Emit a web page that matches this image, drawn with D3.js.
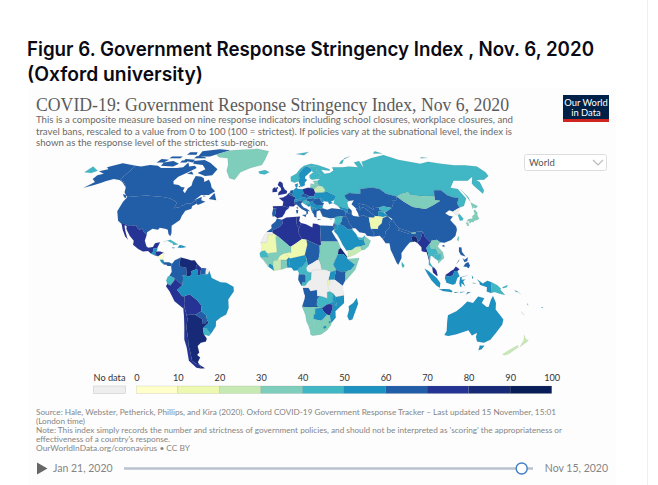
<!DOCTYPE html>
<html><head><meta charset="utf-8">
<script src="https://cdnjs.cloudflare.com/ajax/libs/d3/7.8.5/d3.min.js"></script>
<style>html,body{margin:0;padding:0;background:#fff}svg{display:block}</style></head>
<body><svg id="chart" width="658" height="485"></svg>
<script>
const figureTitle = ["Figur 6. Government Response Stringency Index , Nov. 6, 2020","(Oxford university)"];
const chartTitle = "COVID-19: Government Response Stringency Index, Nov 6, 2020";
const chartSubtitle = ["This is a composite measure based on nine response indicators including school closures, workplace closures, and",
 "travel bans, rescaled to a value from 0 to 100 (100 = strictest). If policies vary at the subnational level, the index is",
 "shown as the response level of the strictest sub-region."];
const footnotes = ["Source: Hale, Webster, Petherick, Phillips, and Kira (2020). Oxford COVID-19 Government Response Tracker – Last updated 15 November, 15:01",
 "(London time)",
 "Note: This index simply records the number and strictness of government policies, and should not be interpreted as 'scoring' the appropriateness or",
 "effectiveness of a country's response.",
 "OurWorldInData.org/coronavirus • CC BY"];
const legendTicks = [0,10,20,30,40,50,60,70,80,90,100];
const legendColors = ["#ffffcc","#edf8b1","#c7e9b4","#7fcdbb","#41b6c4","#1d91c0","#225ea8","#253494","#162a78","#081d58"];
const noDataColor = "#eeeeee";
const timelineLabels = ["Jan 21, 2020","Nov 15, 2020"];
const timelineDates = ["2020-01-21","2020-11-06","2020-11-15"];

const regionsAmericas = ["Canada","Alaska","United States","Mexico","Greenland","Guatemala","Belize","Honduras","El Salvador","Nicaragua","Costa Rica","Panama","Cuba","Haiti","Dominican Republic","Jamaica","Colombia","Venezuela","Guyana","Suriname","French Guiana","Ecuador","Peru","Bolivia","Paraguay","Chile","Argentina","Uruguay","Brazil"];
const valuesAmericas  = [65,65,65,75,35,55,55,75,65,5,55,65,45,55,55,55,65,85,75,65,null,45,75,75,65,75,85,45,55];
const regionsEurope = ["Iceland","United Kingdom","Ireland","France","Spain","Portugal","Belgium","Netherlands","Germany","Denmark","Switzerland","Austria","Italy","Poland","Czechia","Slovakia","Hungary","Croatia","Bosnia","Serbia","Albania","North Macedonia","Bulgaria","Romania","Moldova","Greece","Ukraine","Belarus","Lithuania","Latvia","Estonia","Norway","Sweden","Finland","Svalbard","Russia","Cyprus"];
const valuesEurope  = [45,75,75,75,75,65,65,65,55,55,55,55,65,75,65,55,65,45,55,55,55,55,55,65,55,65,55,25,35,35,35,45,55,45,45,45,45];
const regionsAsia = ["Turkey","Georgia","Armenia","Azerbaijan","Iran","Iraq","Syria","Lebanon","Israel","Jordan","Saudi Arabia","Kuwait","UAE","Oman","Yemen","Kazakhstan","Turkmenistan","Uzbekistan","Kyrgyzstan","Tajikistan","Afghanistan","Pakistan","India","Nepal","Bhutan","Bangladesh","Sri Lanka","China","Mongolia","Taiwan","North Korea","South Korea","Japan","Myanmar","Thailand","Laos","Vietnam","Cambodia","Malaysia","Indonesia","Philippines"];
const valuesAsia  = [65,55,55,65,65,65,45,45,75,55,55,55,45,35,25,65,65,65,45,55,15,65,65,65,35,85,45,65,35,35,null,45,35,75,45,35,35,45,75,55,65];
const regionsOceania = ["Papua New Guinea","Australia","New Zealand","Solomon Islands","Vanuatu","New Caledonia","Fiji"];
const valuesOceania  = [45,55,25,45,45,null,45];
const regionsAfrica = ["Morocco","Western Sahara","Mauritania","Algeria","Tunisia","Libya","Egypt","Mali","Niger","Chad","Sudan","South Sudan","Eritrea","Ethiopia","Somalia","Kenya","Uganda","Burundi","Tanzania","DR Congo","Congo","Gabon","Central African Republic","Cameroon","Nigeria","Benin","Togo","Ghana","Burkina Faso","Cote d'Ivoire","Liberia","Sierra Leone","Guinea","Guinea-Bissau","Senegal","Angola","Zambia","Malawi","Mozambique","Zimbabwe","Namibia","Botswana","South Africa","Lesotho","Eswatini","Madagascar"];
const valuesAfrica  = [65,null,15,75,75,75,65,35,15,65,35,35,85,55,35,65,55,15,null,null,45,65,null,45,55,55,35,35,15,25,55,35,35,35,45,65,45,55,55,75,35,55,35,55,55,55];

const outlines = {
"Canada":"-141,69.6 -135,69 -128,70 -120,69.5 -115,68 -108,68 -100,68 -95,68.5 -94,72 -90,69 -85,69.5 -82,68 -87,65 -93,62 -94.5,59 -92.5,57 -88,56.5 -85,55.3 -82,55 -82,52.9 -79.5,51.3 -79,54.5 -77,56 -78,59 -78,62.4 -73,62 -70,61 -68,58.5 -65,60 -62,57.5 -60,55 -56,52.5 -60,50.2 -66,50.2 -70,47 -65,49 -64.5,47 -61,46 -66,44 -67,45 -68,47.3 -70,46 -71.5,45 -75,45 -76.5,44 -79,43.3 -79,42.8 -83,42 -82.5,45.3 -84.5,46.5 -89,48 -95,49 -123,49 -125,50 -128,52 -130,55 -133,57 -137,59 -141,60|-128,50.8 -125,50 -123.5,48.4 -125.5,48.8|-59,47.7 -56,51.5 -53,47|-80,73.7 -72,71.5 -62,67 -64,63 -70,62.5 -78,64.5 -73,67 -78,70 -88,71 -90,73|-117,69.5 -105,69 -102,71 -110,73 -118,72|-90,76.5 -78,76.5 -72,78.5 -62,82 -75,83 -92,81|-125,72 -118,72 -116,74 -124,74.5|-92,75 -80,75 -82,76 -92,77|-117,75 -106,75 -106,76.5 -117,76.5|-100,73.5 -90,72 -90,74 -100,74.5|-87,64 -81,63.5 -84,65.5|-104,78 -94,78 -96,80 -104,80|-64,49.9 -62,49.4 -64,49.2|-102,72 -96,72 -96,73.4 -102,73.4",
"Alaska":"-156.5,71.3 -141,69.6 -141,60 -137,59 -133,57 -130,55 -133,56.5 -137,58.5 -141,59.8 -147,60.5 -152,59 -154,58 -158,56.5 -164,54.7 -160,58.5 -165,60.5 -165,63 -161,64 -168,65.6 -162,67 -166,68.5",
"United States":"-123,49 -95,49 -89,48 -84.5,46.5 -82.5,45.3 -83,42 -79,42.8 -79,43.3 -76.5,44 -75,45 -71.5,45 -70,46 -68,47.3 -67,45 -70,43.5 -70,41.7 -74,40.6 -75.5,37.5 -76,35 -81,31.5 -80,27 -80.5,25.2 -82,26.5 -83,29 -85,29.7 -89,30.2 -90,29 -94,29.6 -97.3,27.5 -97.2,26 -99.5,27.5 -101.4,29.8 -103,29 -104.8,30 -106.5,31.8 -108.2,31.4 -111,31.3 -114.8,32.5 -117.1,32.5 -120.5,34.5 -122.4,37.5 -124.3,40.3 -124,46",
"Mexico":"-117.1,32.5 -114.8,32.5 -111,31.3 -108.2,31.4 -106.5,31.8 -104.8,30 -103,29 -101.4,29.8 -99.5,27.5 -97.2,26 -97.8,22.5 -96,19 -94.5,18.2 -91.5,18.6 -90.4,21 -87,21.5 -88.3,18.4 -89.2,17.8 -91,17.8 -91,16 -92.2,14.6 -94.5,16.2 -98,16 -101.5,17.5 -105.5,20 -105.5,22.5 -109,25.5 -112.5,29.5 -113,31.3 -114.8,31.8 -113,28.5 -110.5,24.3 -109.5,23 -112,25 -115,29",
"Greenland":"-73,78 -60,82 -32,83.5 -18,81 -20,74 -22,70 -32,68 -40,65 -43,60 -48,61 -53,66 -54,70 -58,75 -68,76",
"Guatemala":"-92.2,14.6 -91,16 -91,17.8 -89.2,17.8 -88.9,15.9 -89.2,14.4 -90.1,13.8",
"Belize":"-89.2,17.8 -88.3,18.4 -88.3,16.5 -88.9,15.9",
"Honduras":"-88.9,15.9 -86,15.9 -83.2,15 -84.5,14.7 -87.3,13 -87.8,13.4 -89.2,14.4",
"El Salvador":"-90.1,13.8 -89.2,14.4 -87.8,13.4 -88.5,13.2",
"Nicaragua":"-87.3,13 -84.5,14.7 -83.2,15 -83.6,11 -85.7,11",
"Costa Rica":"-85.7,11 -83.6,11 -82.6,9.5 -83,8.2 -85,9.7",
"Panama":"-83,8.2 -82.6,9.5 -79.5,9.5 -77.3,8.6 -77.9,7.3 -80.4,7.3 -81,8",
"Cuba":"-84.9,21.9 -80,23 -74.2,20.2 -77.7,19.9 -78,20.8 -82,22.4",
"Haiti":"-74.4,18.4 -73,19.9 -71.7,19.7 -71.7,18.1",
"Dominican Republic":"-71.7,19.7 -68.4,18.6 -71.7,18.1",
"Jamaica":"-78.3,18.5 -76.3,18.2 -77.5,17.8",
"Colombia":"-77.3,8.6 -75.5,10.7 -71.5,12.4 -72.3,9 -71.9,7 -67.5,6.2 -67.3,3.5 -67.1,1.2 -69.8,1.7 -69.5,-0.5 -70,-4.2 -72.9,-2.3 -75.2,-0.1 -78.8,1.4 -77.3,3.8 -77.9,7.3",
"Venezuela":"-71.5,12.4 -68,11.6 -64,10.5 -61.9,10.7 -60,8.5 -61,6 -60.6,5.2 -64,4 -63.5,2.2 -65,1 -67.1,1.2 -67.3,3.5 -67.5,6.2 -71.9,7 -72.3,9",
"Guyana":"-60,8.5 -57.2,6 -58,2 -59.9,1.3 -59.8,5 -60.6,5.2 -61,6",
"Suriname":"-57.2,6 -54,5.9 -54.2,2.3 -56,1.9 -58,2",
"French Guiana":"-54,5.9 -51.6,4.2 -52.6,2.3 -54.2,2.3",
"Ecuador":"-78.8,1.4 -75.2,-0.1 -75.5,-1.5 -78.3,-4.5 -80.3,-3.4 -81,-1.5 -80,0.8",
"Peru":"-80.3,-3.4 -78.3,-4.5 -75.5,-1.5 -75.2,-0.1 -72.9,-2.3 -70,-4.2 -73.8,-7.3 -70.5,-11 -69,-11 -69,-15.5 -69.5,-17.5 -70.4,-18.3 -76,-14 -79,-8 -81.3,-5",
"Bolivia":"-69,-11 -65.4,-9.8 -60.2,-13.5 -58,-16.3 -58,-20 -62.6,-22.2 -66.3,-21.8 -68.5,-22.7 -69.5,-17.5 -69,-15.5",
"Paraguay":"-58,-20 -55,-22.3 -54.6,-25.6 -56,-27.3 -58.6,-27.2 -57.7,-25 -62.6,-22.2",
"Chile":"-70.4,-18.3 -69.5,-17.5 -68.5,-22.7 -68.3,-24.5 -70,-30 -70.5,-36 -71.5,-40 -72,-45 -73,-50 -71,-52 -68.4,-52.4 -68.6,-55 -72,-54.5 -75.5,-50 -73.5,-42 -73.5,-37 -71.5,-30 -70.5,-23",
"Argentina":"-68.5,-22.7 -66.3,-21.8 -62.6,-22.2 -57.7,-25 -58.6,-27.2 -56,-27.3 -54.6,-25.6 -53.8,-27 -58.4,-30.2 -58.4,-34 -57,-36.5 -58,-38.3 -62,-39 -65,-41 -65.3,-45 -67.5,-46.5 -65.8,-48 -69,-51 -68.4,-52.4 -71,-52 -73,-50 -72,-45 -71.5,-40 -70.5,-36 -70,-30 -68.3,-24.5|-68.4,-52.7 -65.2,-54.8 -68.6,-55",
"Uruguay":"-58.4,-34 -58.4,-30.2 -56,-30.2 -53.4,-33.7 -55,-35",
"Brazil":"-51.6,4.2 -50,0 -44,-2.5 -40,-2.8 -35.2,-5.2 -35,-8 -39,-13 -39,-18 -41,-22 -45,-23.8 -48.5,-26 -49,-29 -53.4,-33.7 -56,-30.2 -58.4,-30.2 -53.8,-27 -54.6,-25.6 -55,-22.3 -58,-20 -58,-16.3 -60.2,-13.5 -65.4,-9.8 -69,-11 -70.5,-11 -73.8,-7.3 -70,-4.2 -69.5,-0.5 -69.8,1.7 -67.1,1.2 -65,1 -63.5,2.2 -64,4 -60.6,5.2 -59.8,5 -59.9,1.3 -58,2 -56,1.9 -54.2,2.3 -52.6,2.3",
"Iceland":"-24,65.5 -18,66.5 -14,65 -18,63.5 -22.5,64",
"United Kingdom":"-5.5,50 1.3,51.2 1.7,52.7 0,53.5 -1.6,55.5 -2,57.6 -3.5,58.6 -5,58.6 -6,56.5 -3.5,54.8 -3,53.4 -5,52|-8,54.5 -6,55.2 -5.5,54.4 -6.5,54",
"Ireland":"-10,52 -6.2,52.2 -6.5,54 -8,54.5 -8,55.3 -10,54.2",
"France":"-1.8,43.4 -1.2,46 -4.7,48.4 -1.5,48.7 1.5,50.1 2.5,51.1 4.2,50 6.2,49.5 8.2,49 7.6,47.6 6.9,46.4 7.6,44 6.5,43.1 3,43.2 3.2,42.4|8.6,42.5 9.5,43 9.4,41.5",
"Spain":"-9.2,43.3 -1.8,43.4 3.2,42.4 0.5,40.5 -0.3,38.8 -2,36.8 -5.5,36 -7.4,37.2 -7,39.5 -6.5,41.9 -8.8,41.9",
"Portugal":"-8.8,41.9 -6.5,41.9 -7,39.5 -7.4,37.2 -9,37 -9.5,38.8",
"Belgium":"2.5,51.1 3.6,51.4 4.2,51.3 6,50.7 6.2,49.5 4.2,50",
"Netherlands":"3.6,51.4 4.5,53 7,53.3 6,50.7 4.2,51.3",
"Germany":"6,50.7 7,53.3 9,54.8 11,54 14.2,53.9 15,51 12.2,50.3 13.7,48.6 10,47.5 7.6,47.6 8.2,49 6.2,49.5",
"Denmark":"8.1,56.9 10.9,57.7 10.3,55.6 9.8,54.9 9,54.8|11,55.7 12.5,56 12.3,55",
"Switzerland":"6.9,46.4 7.6,47.6 9.6,47.5 10.4,46.8 9,46",
"Austria":"9.6,47.5 10,47.5 13.7,48.6 15,49 17,48 16.5,46.8 13.5,46.5 10.4,46.8",
"Italy":"6.9,46.4 9,46 10.4,46.8 13.5,46.5 13.7,45.7 12.3,45.2 12.5,44 14,42.5 16.1,41.8 18.5,40.2 16.9,40.4 17,39 15.8,38 15.8,40 12.4,41.6 10.5,43 8.8,44.4 7.6,44|12.5,38 15.6,38.2 15.1,36.7|8.2,41 9.8,41 9.5,39 8.5,39",
"Poland":"14.2,53.9 18.5,54.8 22.8,54.4 23.5,53.9 24,51.7 22.8,49.2 19,49.5 15,51",
"Czechia":"12.2,50.3 15,51 19,49.5 17,48 15,49 13.7,48.6",
"Slovakia":"17,48 19,49.5 22.8,49.2 22,48.3 18.5,47.8",
"Hungary":"16.5,46.8 17,48 18.5,47.8 22,48.3 22.9,47.9 21,46.2 18.8,45.9",
"Croatia":"13.7,45.7 13.5,46.5 16.5,46.8 18.8,45.9 19,45 16,45.2 17.8,43 13.6,45.2",
"Bosnia":"16,45.2 19,45 19.2,43.5 17.8,43",
"Serbia":"18.8,45.9 21,46.2 22.7,44.2 22.5,42.4 20.5,42.3 19.2,43.5 19,45",
"Albania":"19.2,43.5 20.5,42.3 21,40.9 20,39.7 19.4,41.5",
"North Macedonia":"20.5,42.3 22.5,42.4 23,41.3 21,40.9",
"Bulgaria":"22.7,44.2 28.6,43.7 28,42 26.3,41.7 23,41.3 22.5,42.4",
"Romania":"21,46.2 22.9,47.9 26.6,48.3 28.2,45.5 29.7,45.2 28.6,43.7 22.7,44.2",
"Moldova":"26.6,48.3 29.2,47.5 30,46.4 28.2,45.5",
"Greece":"20,39.7 21,40.9 23,41.3 26.3,41.7 26,40.8 23.5,40.2 23,38 23,36.5 21.5,36.8 21.2,38.3|23.6,35.5 26.3,35.2 24,35",
"Ukraine":"24,51.7 31,52 34,52.3 40,49.6 38,47.1 35,46 36.5,45.2 33.5,44.5 33,46 30,46.4 29.2,47.5 26.6,48.3 22.9,47.9 22,48.3 22.8,49.2",
"Belarus":"23.5,53.9 26.6,55.6 30.8,55.6 32.5,53.3 31,52 24,51.7",
"Lithuania":"21,56.3 26.6,55.6 23.5,53.9 22.8,54.4 21,55.3",
"Latvia":"21,56.3 21.5,57.5 24.4,57.1 24.4,58 27.5,57.6 28.2,56.1 26.6,55.6",
"Estonia":"23.5,59.2 28,59.5 27.5,57.6 24.4,58",
"Norway":"5,59 5,62 10,64 14,67.5 18,69.6 25,71 31,70 29,69 25.7,69 20.5,69 18,68.5 14.5,66 12,63.5 12.5,61 11.5,59 8,58",
"Sweden":"11.5,59 12.5,61 12,63.5 14.5,66 18,68.5 20.5,69 23.7,68 24,65.8 21.5,64.5 17.5,62 17.2,60.7 18.8,59.8 16.5,58 16.4,56.3 14.3,55.5 12.8,55.4",
"Finland":"20.5,69 25.7,69 29,69 28.5,66 31.5,62.8 28,60.5 23,59.9 21.3,61 21.5,63 25.5,65 24,65.8 23.7,68",
"Svalbard":"12,78.5 26,80.3 20,77.5",
"Russia":"31,70 41,67 40.5,66 33,66.7 35,64 40,64.5 44,66.2 44,68.5 54,68.5 60,69 68,68.5 67,72 73,73 73,68 75,72.5 80,73.5 87,75 104,77.7 113,74 130,71 140,72.5 150,71 160,69.8 170,69.8 180,69 180,65 178,62.5 170,60 163,59.8 164,58.5 162,56 160,53 156.7,51 155.5,56 156,57.5 163,62 155,59.3 143,59.3 135,54.8 140,54 140.5,48 135,43.5 131,42.5 130.7,42.3 131,45 135,48.4 130.8,48.8 127.5,50 125.5,53.2 120,53.2 117,49.6 108,49.5 98.7,50 98,52 92,50.8 87.3,49.2 80,51 76.5,54 71,55 61,54 59.5,50.8 51,51.5 47,50 47,48.2 49,46.5 47.5,45.5 47.5,43 48.5,41.8 46.5,41.8 40,43.4 37,45 38,47.1 40,49.6 34,52.3 31,52 32.5,53.3 30.8,55.6 28.2,56.1 27.5,57.6 28,59.5 30,60 28,60.5 31.5,62.8 28.5,66 29,69|-180,69 -170,66 -173,64.5 -180,65|142,54 143,49 142,46 142,50|52,71 56,73.5 68,76.8 60,75 55,71|95,79 105,79 100,81|137,75 145,75.3 140,76|19.8,54.4 22.8,54.4 21,55.3",
"Cyprus":"32.5,34.8 34.5,35.6 33,35.2",
"Turkey":"26.3,41.7 28,42 31.5,41.2 35,42 41.5,41.5 43.5,41 44.7,39.7 44.5,37.2 42,37.2 36.5,36.7 36,36.2 32.5,36 30.5,36.4 27.5,37 26.5,39.5 26,40.8",
"Georgia":"40,43.4 46.5,41.8 46.5,41 43.5,41 41.5,41.5",
"Armenia":"43.5,41 46.5,41 46.5,39 44.7,39.7",
"Azerbaijan":"46.5,41.8 48.5,41.8 49.5,40.5 49,38.4 46.5,39 46.5,41",
"Iran":"44.7,39.7 46.5,39 49,38.4 50,37.4 54,36.9 57,38 61,36.5 61,31.5 61,29.5 63,27 61.5,25 57.5,25.5 56.5,27 52.5,27.5 50,30 48.5,30 46,33 45.5,35.5 44.5,37.2",
"Iraq":"42,37.2 44.5,37.2 45.5,35.5 46,33 48.5,30 47.5,29.8 47,29 44.7,29.2 41,31.9 39,32.3 41,34.5",
"Syria":"36.5,36.7 42,37.2 41,34.5 39,32.3 36.8,32.4 35.7,32.7 36,33.3 36.5,34.6 36,34.6 36,36.2",
"Lebanon":"35.1,33.1 36,33.3 36.5,34.6 36,34.6",
"Israel":"34.3,31.3 35.1,33.1 35.7,32.7 35.5,31.3 35,29.5",
"Jordan":"35.7,32.7 36.8,32.4 39,32.3 37,31.5 38,30.3 36,29.2 35,29.5 35.5,31.3",
"Saudi Arabia":"35,29.5 36,29.2 38,30.3 37,31.5 39,32.3 41,31.9 44.7,29.2 47,29 48.3,28.5 50,26.5 51,24.6 52,23 55.2,22.7 55.7,20 52,19 49,18.6 46.5,17 43.3,16.6 42.5,16.4 40,20 38.5,23 36.7,26 34.8,28",
"Kuwait":"47,29 47.5,29.8 48.3,28.5",
"UAE":"51,24.6 52,23 55.2,22.7 55.7,24 56.3,25.8 54,24.2",
"Oman":"55.2,22.7 55.7,24 56.3,24.8 59.8,22.5 57.8,19 55,17 53,16.7 52,19 55.7,20",
"Yemen":"43.3,12.7 43.3,16.6 46.5,17 49,18.6 52,19 53,16.7 48,14 45,12.9",
"Kazakhstan":"49,46.5 47,48.2 47,50 51,51.5 59.5,50.8 61,54 71,55 76.5,54 80,51 87.3,49.2 85.5,47 83,47 82.5,45.2 80,42.2 74,43.2 70.5,42.5 66,43 66,41 61,44 56,45 56,41.3 53,42 50.5,44.5 53,46.9",
"Turkmenistan":"53,42 56,41.3 58,42.7 60,42 61,41 66,37.4 64.5,36.3 61,36.5 57,38 54,36.9 53.8,39 53,41",
"Uzbekistan":"56,45 61,44 66,41 66,43 70.5,42.5 70.5,41 73,40.5 69,40 68,37.2 66,37.4 61,41 60,42 58,42.7 56,41.3",
"Kyrgyzstan":"70.5,42.5 74,43.2 80,42.2 76,40.4 73,39.5 69,40 73,40.5 70.5,41",
"Tajikistan":"68,37.2 69,40 73,39.5 75,37.4 71.5,36.8",
"Afghanistan":"61,36.5 64.5,36.3 66,37.4 68,37.2 71.5,36.8 75,37.4 71,36 69.5,33 66.5,31 66,29.5 61,29.5 61,31.5",
"Pakistan":"61,29.5 66,29.5 66.5,31 69.5,33 71,36 75,37.4 77,35 74.5,33 75,31 71,28 70,25 68.2,23.7 66.5,25.4 61.5,25 63,27",
"India":"77.8,35.5 79,32.5 81,30 80,28.8 88,26.4 88.2,27.9 88.8,27.3 89,26.8 92,26.8 92,27.7 97.4,28.2 95,24 93.3,22 92.3,23.5 92,25 89.8,25.3 88.3,24.5 88.9,21.7 87,21.5 84,19 80.2,15 80,12 77.5,8 76.5,9 74.8,13 73,17 72.7,21 70,21 68.2,23.7 70,25 71,28 75,31 74.5,33 77,35",
"Nepal":"80,28.8 88,26.4 88.2,27.9 81,30",
"Bhutan":"88.8,27.3 92,27.7 92,26.8 89,26.8",
"Bangladesh":"88.3,24.5 89.8,25.3 92,25 92.3,23.5 92.3,21 90.5,22 88.9,21.7",
"Sri Lanka":"80,9.7 81.8,7.5 80.6,6 79.8,7.5",
"China":"73.7,39.5 76,40.4 80,42.2 82.5,45.2 83,47 85.5,47 87.3,49.2 91,46 96,42.8 105,41.6 111.5,43.7 119.5,46.7 115.5,47 117,49.6 120,53.2 125.5,53.2 127.5,50 130.8,48.8 135,48.4 131,45 130.7,42.3 128,41.5 124.3,40 122,40.8 118,39 120,37.5 122.5,37 119.5,35 122,31 121.8,29 119.5,25.3 116,22.9 111,21.3 108,21.6 106,23 102,22.5 101.5,21.3 99,24 98,25 97.4,28.2 92,27.7 88.8,27.3 88.2,27.9 81,30 79,32.5 77.8,35.5 75,37.4|108.7,19.3 110.5,20.1 110.5,18.6",
"Mongolia":"87.3,49.2 92,50.8 98,52 98.7,50 108,49.5 117,49.6 115.5,47 119.5,46.7 111.5,43.7 105,41.6 96,42.8 91,46",
"Taiwan":"121.5,25.2 122,24.5 120.8,22 120.1,23.2",
"North Korea":"124.3,40 128,41.5 130.7,42.3 129.7,40.9 127.5,39.7 128.3,38.6 126.7,37.8 125,38",
"South Korea":"126.7,37.8 128.3,38.6 129.4,36 128.5,34.8 126.3,34.5 126.5,36.7",
"Japan":"130.9,34 133,35.5 136,35.7 137,37.3 139.5,38.5 140,40.5 141.3,41.3 142,39.5 141,38 140.8,35.7 139,35 137,34.6 135.5,33.6 133,34.3|130,33.3 131.8,33.5 131.3,31.4 130.3,31.3|132.5,33.9 134.5,34.2 133.7,33.4 132.7,32.9|140.2,41.5 141.7,45.5 145.3,43.5 143,42 141,42.5",
"Myanmar":"93.3,22 95,24 97.4,28.2 98,25 99,24 101.5,21.3 100.1,20.3 97.8,18 98.5,15 99,11 98.7,10.5 97.7,15.5 95.5,15.8 94.3,16.2 94.5,18.5 92.3,21 92.3,23.5",
"Thailand":"100.1,20.3 100.5,20.2 101,17.6 104.5,17.5 105.5,14.3 102.5,14 102.9,11.7 100.9,13.4 99.9,13 99.3,9.3 100.6,7.3 102,6.2 100.6,6.3 98.3,8 98.7,10.5 99,11 98.5,15 97.8,18",
"Laos":"101.5,21.3 102,22.5 103,20.7 105,19 107.5,16 107.3,14.5 105.5,14.3 104.5,17.5 101,17.6 100.5,20.2",
"Vietnam":"102,22.5 106,23 108,21.6 105.8,19 108.8,15.5 109.3,12 107,10.4 105,8.7 104.8,10.5 107,11.5 107.3,14.5 107.5,16 105,19 103,20.7",
"Cambodia":"102.9,11.7 102.5,14 105.5,14.3 107.3,14.5 107,11.5 104.8,10.5",
"Malaysia":"100.6,6.3 102,6.2 103.4,4.5 104.2,1.4 103.4,1.4 101,3.3|109.6,1.9 111.3,2.8 113.5,4.4 115,5 116.8,7 119.2,5.2 117.7,4.2 115.7,4.2 114.5,1.5 112,1 110.2,1",
"Indonesia":"95.4,5.6 98,4.2 103.5,0 106,-3 105.8,-5.8 103.5,-4.7 100,-1.5 97.5,2|105.3,-6.8 108.6,-6.7 112.5,-6.8 114.5,-7.8 114.3,-8.6 108,-7.8|109.6,1.9 110.2,1 112,1 114.5,1.5 115.7,4.2 117.7,4.2 119,1 117.5,0 116.3,-3.5 114.5,-4 110.2,-2.9 109,0|119.5,0.5 125,1.6 120.5,0.5 120.5,-1 123,-0.9 121.5,-2 123,-5 120.5,-3 120.4,-5.6 119.5,-5 119,-3|131,-0.8 135,-3.3 138,-1.7 141,-2.6 141,-9.1 138,-8.2 138,-5.5 133,-4 132.8,-2.8|124,-10 127,-8.5 125,-8.5|116,-8.4 119,-8.4 116,-9|119.8,-8.5 123,-8.3 120,-8.9|127.5,1.5 128.5,0 127.7,-0.5|128,-3.2 130.8,-3.3 128.3,-2.9",
"Philippines":"120.5,18.5 122.2,18.4 122,15.8 124,13 121,13.8 120,16|122,7 123.5,8.7 125.5,9.7 126.5,7.5 125.5,5.8 124,6.8|122,11.8 123.2,11 125.5,12.5 125,10.3 123,9.5|117.2,8.4 119.7,11.3 119.2,10.3",
"Papua New Guinea":"141,-2.6 145,-4.3 147.7,-6.5 147.2,-7 150.8,-10.3 147,-9.5 143.5,-8.5 141,-9.1|148.5,-5.6 152,-4.2 151.5,-5.5 149,-6.2",
"Australia":"113.7,-22.5 114,-26 115.7,-32 115,-34.3 118,-35 123.5,-33.9 131,-31.5 135,-34.6 138,-33 138.5,-35.6 141,-38.3 146.5,-39 150,-37.2 151.5,-33.2 153.5,-28 153,-25 149.5,-22 146,-19 145.3,-15 142.6,-10.8 141.6,-13 140.8,-17.5 139.5,-17.5 135.5,-15 136.8,-12.2 132.5,-11.2 129.5,-15 125.5,-14.2 122.2,-17.5 119,-20|144.7,-40.7 148.3,-40.9 147.9,-43 146,-43.6 145.3,-42",
"New Zealand":"172.7,-34.4 175.5,-36.8 178.3,-37.7 177,-39.5 175.3,-41.6 174.8,-39.5 174.7,-37.5|172.7,-40.5 174.3,-41.7 171,-45.9 169,-46.7 166.5,-46 168.5,-44",
"Solomon Islands":"157,-7.2 160,-8.6 158,-8.4|160,-8.5 161.5,-10 160.8,-9.4",
"Vanuatu":"167,-15.2 168,-16.5 167.3,-16.2",
"New Caledonia":"164,-20.2 167,-22.2 165.5,-21.8",
"Fiji":"177.3,-17.5 178.6,-17.6 178,-18.2",
"Madagascar":"49.3,-12 50.4,-15.5 47.2,-25 45,-25.5 43.5,-23 44.4,-19.5 44,-17 47,-15",
"Morocco":"-5.9,35.8 -2.2,35.1 -1.7,33 -3.7,30.8 -8.7,28.7 -8.7,27.7 -13,27.7 -9.5,30 -9.8,32 -6.8,34",
"Western Sahara":"-13,27.7 -8.7,27.7 -8.7,26 -12,26 -12,23.4 -13,21.3 -17,21.3 -14.5,26",
"Mauritania":"-17,21.3 -13,21.3 -12,23.4 -12,26 -8.7,26 -8.7,27.3 -4.8,25 -6.5,25 -5.5,15.5 -12.2,14.8 -14,16.6 -16.5,16 -16,19",
"Algeria":"-1.7,33 -2.2,35.1 1,36.5 8.6,36.9 8.2,33 9.5,30 9.8,26.5 11.9,23.5 7.4,20.8 4.2,19 3.3,18.9 1.2,20.7 -4.8,25 -8.7,27.3 -8.7,28.7 -3.7,30.8",
"Tunisia":"8.6,36.9 11,37.1 10.2,34.3 11.5,33.1 10.2,30.2 9.5,30 8.2,33",
"Libya":"11.5,33.1 15,32.4 19.5,30.4 20,32.8 23,32.6 25,31.6 25,20 24,19.5 15,23 11.9,23.5 9.8,26.5 9.5,30 10.2,30.2",
"Egypt":"25,31.6 31,31.5 34.3,31.3 35,29.5 33,28 35.5,24 37,22 25,22",
"Mali":"-12.2,14.8 -5.5,15.5 -6.5,25 -4.8,25 1.2,20.7 3.3,18.9 4.2,19 4.2,15 3.5,15.4 0.3,14.9 -2,14.2 -3.5,13.3 -5.3,10.4 -6.2,10.5 -8,10.2 -8.3,11.5 -11.4,12.3",
"Niger":"4.2,19 7.4,20.8 11.9,23.5 15,23 15.5,20 13.6,13.7 9,12.8 3.6,11.7 2.5,12.3 0.3,14.9 3.5,15.4 4.2,15",
"Chad":"15,23 24,19.5 24,15.7 22.9,11 22,10.9 18.8,9 15.5,7.5 15,11 14.3,13 13.6,13.7 15.5,20",
"Sudan":"24,19.5 25,20 25,22 37,22 38.6,18 37,17 36.4,14.3 34,10 33,12 27,9.5 24,9 22.9,11 24,15.7",
"South Sudan":"24,9 27,9.5 33,12 34,10 33,8 35,5 34,4.2 31,3.7 27.5,5 25,5",
"Eritrea":"36.4,14.3 37,17 38.6,18 43,12.5 42.4,12.5 40,14.5",
"Ethiopia":"34,10 36.4,14.3 40,14.5 42.4,12.5 43,11.5 48,8 45,5 42,4 39,3.5 35.9,4.6 35,5 33,8",
"Somalia":"43,11.5 51,12 48,5 42,-1 41,-1.7 41,2.9 42,4 45,5 48,8",
"Kenya":"35,5 35.9,4.6 39,3.5 42,4 41,2.9 41,-1.7 39.3,-4.7 34,-1 34,1.2",
"Uganda":"31,3.7 34,4.2 35,5 34,1.2 34,-1 30.5,-1 29.6,-1.4",
"Burundi":"29,-1.5 29.6,-1.4 30.5,-1 30.8,-2.4 30,-4.4 29,-4",
"Tanzania":"30.5,-1 34,-1 39.3,-4.7 39.5,-6.5 40.4,-10.5 34.9,-11.5 33,-9.4 30.8,-8.2 29.5,-6 30,-4.4 30.8,-2.4",
"DR Congo":"12.2,-6 13,-4.7 14,-4.4 16,-2 17.7,-1 18,3.5 19,5 25,5 27.5,5 31,3.7 29.6,-1.4 29,-1.5 29,-4 29.5,-6 30.8,-8.2 28.9,-8.5 29,-12.4 27,-11.6 23.9,-10.9 22,-11 21.8,-7.3 17.5,-8 16,-6",
"Congo":"11.2,-4.6 13,-4.7 14,-4.4 16,-2 17.7,-1 18,3.5 16.5,3.5 14,1.4 14,-2.4 12,-2.5",
"Gabon":"9,-1 9.4,2.3 11.3,2.3 13.3,2.2 14,1.4 14,-2.4 12,-2.5 11.2,-4.6",
"Central African Republic":"14.5,6 15.5,7.5 18.8,9 22,10.9 22.9,11 24,9 25,5 19,5 18,3.5 16.5,3.5 15,4",
"Cameroon":"8.6,4.7 10,6.3 12,7 14.5,10 14.3,13 15,11 15.5,7.5 14.5,6 15,4 16.5,3.5 14,1.4 13.3,2.2 9.8,2.3",
"Nigeria":"2.7,6.4 3.6,11.7 9,12.8 13.6,13.7 14.3,13 14.5,10 12,7 10,6.3 8.6,4.7 6,4.3 4.5,6.2",
"Benin":"1.6,6.2 2.7,6.4 3.6,11.7 2.5,12.3 0.9,11",
"Togo":"1.2,6.1 1.6,6.2 0.9,11 0,11",
"Ghana":"-3,5 1.2,6.1 0,11 -2.9,11",
"Burkina Faso":"-5.3,10.4 -3.5,13.3 -2,14.2 0.3,14.9 2.5,12.3 0.9,11 0,11 -2.9,11",
"Cote d'Ivoire":"-7.5,4.4 -3,5 -2.9,11 -5.3,10.4 -6.2,10.5 -8,10.2 -8.3,7.6",
"Liberia":"-11.5,7 -7.5,4.4 -8.3,7.6 -9.5,8.5 -10.6,8.6",
"Sierra Leone":"-13.3,9 -12,7.6 -11.5,7 -10.6,8.6 -11.2,10",
"Guinea":"-15,11 -13.3,9 -11.2,10 -10.6,8.6 -9.5,8.5 -8.3,7.6 -8,10.2 -8.3,11.5 -11.4,12.3 -13.7,12.6",
"Guinea-Bissau":"-16.7,12.3 -13.7,12.6 -15,11",
"Senegal":"-17.5,14.7 -16.5,16 -14,16.6 -12.2,14.8 -11.4,12.3 -13.7,12.6 -16.7,12.3",
"Angola":"12.2,-6 16,-6 17.5,-8 21.8,-7.3 22,-11 23.9,-10.9 22,-13 22,-16.2 23.3,-17.6 18.5,-17.4 14,-17.4 11.8,-17.3 13.5,-12.5 13.7,-10.7 13,-9",
"Zambia":"23.9,-10.9 27,-11.6 29,-12.4 28.9,-8.5 30.8,-8.2 33,-9.4 33,-12 33,-14 30.4,-15.6 28.9,-15.9 26,-17.9 25.3,-17.8 23.3,-17.6 22,-16.2 22,-13",
"Malawi":"33,-9.4 34.9,-11.5 35,-14 35.8,-16 35.3,-17 34.3,-15 33,-14 33,-12",
"Mozambique":"34.9,-11.5 40.4,-10.5 40.7,-15 35,-20 35.5,-24 32.9,-26.8 32,-26 31.3,-22.4 32.8,-19 32.8,-16 30.4,-15.6 33,-14 34.3,-15 35.3,-17 35.8,-16 35,-14",
"Zimbabwe":"26,-17.9 28.9,-15.9 30.4,-15.6 32.8,-16 32.8,-19 31.3,-22.4 29.4,-22.2 27,-20.5 25.3,-17.8",
"Namibia":"11.8,-17.3 14,-17.4 18.5,-17.4 23.3,-17.6 25.3,-17.8 24,-18 20.9,-18.3 21,-22 20,-22 20,-28.4 16.5,-28.6 15,-26 14.3,-22.5",
"Botswana":"20.9,-18.3 24,-18 25.3,-17.8 27,-20.5 29.4,-22.2 26.8,-24.7 25.5,-25.7 23,-25.3 20,-24.8 20,-22 21,-22",
"South Africa":"16.5,-28.6 20,-28.4 20,-24.8 23,-25.3 25.5,-25.7 26.8,-24.7 29.4,-22.2 31.3,-22.4 32,-26 32.9,-26.8 32.5,-28.5 30,-31.5 26,-34 20,-34.8 18.3,-34 18,-32",
"Lesotho":"27,-29.5 28.7,-28.7 29.4,-29.6 28,-30.6",
"Eswatini":"30.9,-26 32,-26 32,-27 31,-27.3"
};

// Robinson projection reference table (every 5 degrees of latitude)
const robinsonX = [1,.9986,.9954,.99,.9822,.973,.96,.9427,.9216,.8962,.8679,.835,.7986,.7597,.7186,.6732,.6213,.5722,.5322];
const robinsonY = [0,.062,.124,.186,.248,.31,.372,.434,.4958,.5571,.6176,.6769,.7346,.7903,.8435,.8936,.9394,.9761,1];
function robinsonRaw(lam, phi){
  const d = Math.min(17.9999, Math.abs(phi)*180/Math.PI/5), i = Math.floor(d), t = d-i;
  const px = robinsonX[i]+(robinsonX[i+1]-robinsonX[i])*t, py = robinsonY[i]+(robinsonY[i+1]-robinsonY[i])*t;
  return [0.8487*px*lam, 1.3523*py*(phi<0?-1:1)];
}
const projection = d3.geoProjection(robinsonRaw).scale(99).translate([285,278]).precision(0.5);
const geoPath = d3.geoPath(projection);

const regions = [...regionsAmericas,...regionsEurope,...regionsAsia,...regionsOceania,...regionsAfrica];
const values  = [...valuesAmericas,...valuesEurope,...valuesAsia,...valuesOceania,...valuesAfrica];
const color = d3.scaleThreshold().domain(legendTicks.slice(1,-1)).range(legendColors);

function toFeature(name){
  const polys = outlines[name].split("|").map(r=>{
    let ring = r.trim().split(/\s+/).map(p=>p.split(",").map(Number));
    ring.push(ring[0]);
    if (d3.geoArea({type:"Polygon",coordinates:[ring]}) > 2*Math.PI) ring = ring.reverse();
    return [ring];
  });
  return {type:"Feature",properties:{name},geometry:{type:"MultiPolygon",coordinates:polys}};
}

const svg = d3.select("#chart");
svg.append("rect").attr("width",658).attr("height",485).attr("fill","#fff");
svg.append("rect").attr("x",647).attr("y",0).attr("width",1).attr("height",485).attr("fill","#efefef");
svg.append("rect").attr("x",28).attr("y",88).attr("width",588).attr("height",397).attr("fill","#fdfdfd");

svg.selectAll("text.figtitle").data(figureTitle).join("text").attr("class","figtitle")
  .attr("x",27).attr("y",(d,i)=>56+i*25)
  .attr("textLength",(d,i)=>i==0?567:176).attr("lengthAdjust","spacingAndGlyphs")
  .attr("font-family","Inter").attr("font-weight",600).attr("font-size",19.5).attr("fill","#0a0a14").text(d=>d);

svg.append("text").attr("x",36).attr("y",110.5).attr("textLength",473).attr("lengthAdjust","spacingAndGlyphs")
  .attr("font-family","'Liberation Serif'").attr("font-size",18.5).attr("fill","#5b5b5b").text(chartTitle);
const subWidths=[477,476,232];
svg.selectAll("text.sub").data(chartSubtitle).join("text").attr("class","sub")
  .attr("x",36).attr("y",(d,i)=>123.3+i*11.2).attr("textLength",(d,i)=>subWidths[i]).attr("lengthAdjust","spacingAndGlyphs")
  .attr("font-family","Lato").attr("font-size",9.6).attr("fill","#6a6a6a").text(d=>d);

// logo
const logo = svg.append("g");
logo.append("rect").attr("x",563).attr("y",95).attr("width",46).attr("height",27).attr("fill","#002147");
logo.append("rect").attr("x",563).attr("y",119).attr("width",46).attr("height",3).attr("fill","#ce261e");
logo.selectAll("text").data(["Our World","in Data"]).join("text").attr("x",586).attr("y",(d,i)=>106+i*9.6)
  .attr("text-anchor","middle").attr("font-family","Lato").attr("font-size",9.4).attr("fill","#fff").text(d=>d);

// selector
const sel = svg.append("g");
sel.append("rect").attr("x",524.5).attr("y",154.5).attr("width",82).attr("height",16).attr("rx",2).attr("fill","#fff").attr("stroke","#ddd");
sel.append("text").attr("x",529).attr("y",165.5).attr("font-family","Lato").attr("font-size",9.5).attr("fill","#555").text("World");
sel.append("path").attr("d",d3.line()([[593,160],[598,165],[603,160]])).attr("fill","none").attr("stroke","#bbb").attr("stroke-width",1.2);

// map
svg.append("g").selectAll("path").data(regions.map((n,i)=>({f:toFeature(n),v:values[i]}))).join("path")
  .attr("d",d=>geoPath(d.f))
  .attr("fill",d=>d.v==null?noDataColor:color(d.v))
  .attr("stroke","#444").attr("stroke-opacity",0.22).attr("stroke-width",0.3).attr("stroke-linejoin","round");

// legend
const legendX = d3.scaleLinear().domain([0,100]).range([136.3,551.7]);
const leg = svg.append("g");
leg.append("rect").attr("x",93.5).attr("y",386).attr("width",32).attr("height",7.5).attr("fill",noDataColor).attr("stroke","#ccc").attr("stroke-width",.6);
leg.append("text").attr("x",109.5).attr("y",381).attr("text-anchor","middle").attr("font-family","Lato").attr("font-size",9.2).attr("fill","#333").text("No data");
leg.selectAll("rect.bin").data(legendColors).join("rect").attr("class","bin")
  .attr("x",(d,i)=>legendX(legendTicks[i])).attr("y",386)
  .attr("width",(d,i)=>legendX(legendTicks[i+1])-legendX(legendTicks[i])).attr("height",7.5).attr("fill",d=>d)
  .attr("stroke","#777").attr("stroke-opacity",.3).attr("stroke-width",.5);
const legAxis = leg.append("g").attr("transform","translate(0,386)")
  .call(d3.axisTop(legendX).tickValues(legendTicks).tickSize(0).tickPadding(0.5).tickFormat(d3.format("d")));
legAxis.select(".domain").remove();
legAxis.selectAll("text").attr("y",-5).attr("dy",0).attr("font-family","Lato").attr("font-size",9.2).attr("fill","#333");

// footer
const footWidths=[520,49,526,134,154];
svg.selectAll("text.foot").data(footnotes).join("text").attr("class","foot")
  .attr("x",36).attr("y",(d,i)=>415+i*9.1).attr("textLength",(d,i)=>footWidths[i]).attr("lengthAdjust","spacingAndGlyphs")
  .attr("font-family","Lato").attr("font-size",7.9).attr("fill","#858585").text(d=>d);

// timeline
const timeX = d3.scaleTime().domain([new Date(timelineDates[0]),new Date(timelineDates[2])]).range([124,533]);
const tl = svg.append("g");
tl.append("path").attr("d",d3.line()([[37,462.5],[47.5,468.5],[37,474.5]])+"Z").attr("fill","#666");
tl.append("text").attr("x",53).attr("y",472).attr("font-family","Lato").attr("font-size",10.5).attr("fill","#858585").text(timelineLabels[0]);
tl.append("text").attr("x",608).attr("y",472).attr("text-anchor","end").attr("font-family","Lato").attr("font-size",10.5).attr("fill","#858585").text(timelineLabels[1]);
tl.append("line").attr("x1",timeX.range()[0]).attr("x2",timeX.range()[1]).attr("y1",468.5).attr("y2",468.5).attr("stroke","#b9c2ce").attr("stroke-width",2.6);
tl.append("circle").attr("cx",timeX(new Date(timelineDates[1]))+1).attr("cy",468.5).attr("r",5.5).attr("fill","#fff").attr("stroke","#3f7fc4").attr("stroke-width",1.4);
</script></body></html>
